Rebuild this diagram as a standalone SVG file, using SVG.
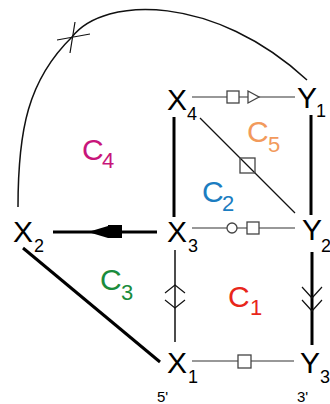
<svg xmlns="http://www.w3.org/2000/svg" width="330" height="404" viewBox="0 0 330 404">
<style>
text{font-family:"Liberation Sans",Arial,sans-serif}
.n{font-size:30px;fill:#000}
.s{font-size:18px;fill:#000}
.p{font-size:15px;fill:#000}
.c{font-size:30px}
.cs{font-size:22px}
.thin{stroke:#333;stroke-width:1.2;fill:none}
.thick{stroke:#000;stroke-width:3;fill:none}
.mk{stroke:#444;stroke-width:1.3;fill:#fff}
</style>
<rect width="330" height="404" fill="#fff"/>
<g id="connectors">
  <path class="thin" d="M18,207 C18,130 28,80 72,37 C105,-5 215,-5 307,80" style="stroke:#111;stroke-width:1.5"/>
  <path class="thin" d="M75,22 L70,53 M57,40 L90,34" style="stroke:#111"/>
  <line class="thin" x1="192" y1="97" x2="295" y2="97"/>
  <rect class="mk" x="227" y="91" width="12" height="12"/>
  <path class="mk" d="M248,91 L259,97 L248,103 Z"/>
  <line class="thin" x1="200" y1="118" x2="295" y2="213" style="stroke:#111"/>
  <rect class="mk" x="240" y="158" width="15" height="15" style="fill:none"/>
  <line class="thick" x1="174" y1="117" x2="174" y2="217"/>
  <line class="thick" x1="311" y1="115" x2="311" y2="215"/>
  <line class="thin" x1="192" y1="228" x2="295" y2="228"/>
  <circle class="mk" cx="232" cy="228" r="5"/>
  <rect class="mk" x="247" y="222" width="12" height="12"/>
  <line class="thick" x1="53" y1="232" x2="157" y2="232"/>
  <path d="M88,232 L108,226 L108,238 Z" fill="#000"/>
  <rect x="108" y="225" width="14" height="13" fill="#000"/>
  <line class="thin" x1="175" y1="250" x2="175" y2="342" style="stroke:#111;stroke-width:1.5"/>
  <path class="thin" d="M165,293 L175,285 L185,293 M165,300 L175,308 L185,300" style="stroke:#111"/>
  <line class="thick" x1="23" y1="248" x2="160" y2="362"/>
  <line class="thick" x1="312" y1="252" x2="312" y2="345"/>
  <path class="thin" d="M302,287 L312,298 L322,287 M302,300 L312,311 L322,300" style="stroke:#111"/>
  <line class="thin" x1="192" y1="361" x2="294" y2="361"/>
  <rect class="mk" x="238" y="355" width="13" height="13"/>
</g>
<g id="X4"><text class="n" x="167" y="110">X</text><text class="s" x="187" y="120">4</text></g>
<g id="Y1"><text class="n" x="297" y="108">Y</text><text class="s" x="316" y="117">1</text></g>
<g id="X3"><text class="n" x="167" y="242">X</text><text class="s" x="188" y="252">3</text></g>
<g id="Y2"><text class="n" x="302" y="240">Y</text><text class="s" x="321" y="252">2</text></g>
<g id="X2"><text class="n" x="13" y="242">X</text><text class="s" x="34" y="252">2</text></g>
<g id="X1"><text class="n" x="167" y="373">X</text><text class="s" x="188" y="383">1</text><text class="p" x="157" y="402">5'</text></g>
<g id="Y3"><text class="n" x="300" y="373">Y</text><text class="s" x="320" y="383">3</text><text class="p" x="297" y="402">3'</text></g>
<g id="C5" fill="#F29A5C"><text class="c" x="247" y="142">C</text><text class="cs" x="268" y="152">5</text></g>
<g id="C2" fill="#1B7DC1"><text class="c" x="202" y="202">C</text><text class="cs" x="222" y="211">2</text></g>
<g id="C4" fill="#C8157A"><text class="c" x="82" y="160">C</text><text class="cs" x="102" y="168">4</text></g>
<g id="C3" fill="#1A8C3C"><text class="c" x="100" y="290">C</text><text class="cs" x="121" y="300">3</text></g>
<g id="C1" fill="#E8261B"><text class="c" x="228" y="307">C</text><text class="cs" x="250" y="315">1</text></g>
</svg>
